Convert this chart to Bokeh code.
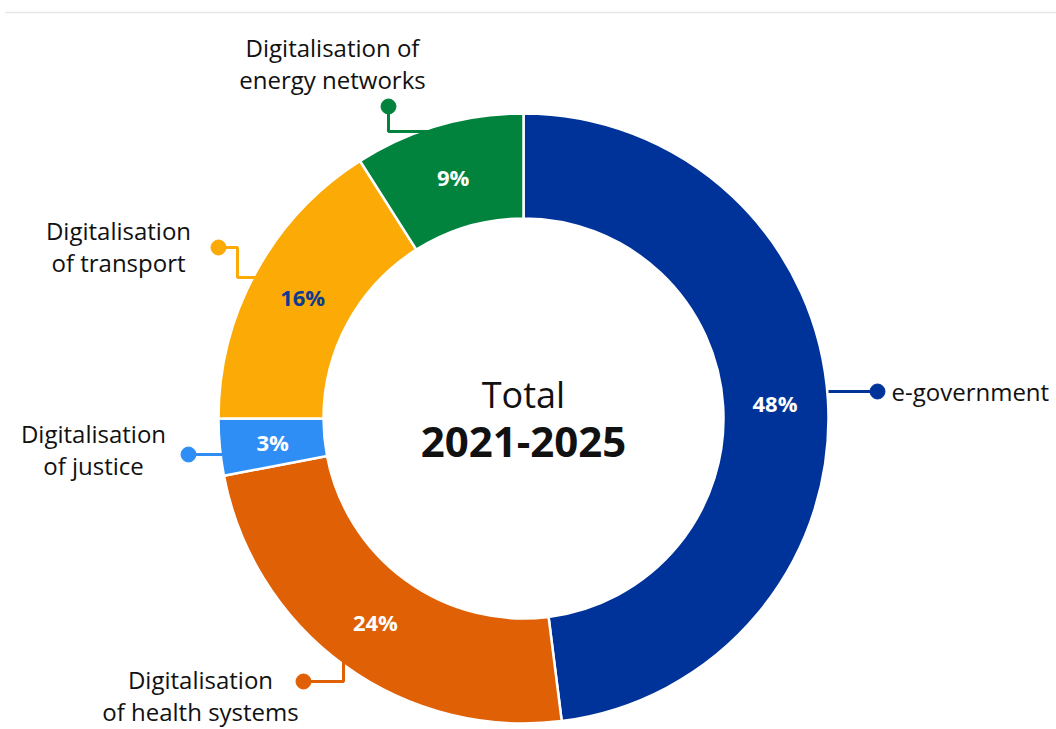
import numpy as np
from bokeh.plotting import figure
from bokeh.models import Range1d, ColumnDataSource
from bokeh.core.properties import value
from bokeh.embed import file_html
from bokeh.resources import INLINE

# ---- data ----
categories = ["e-government", "Digitalisation of health systems", "Digitalisation of justice",
              "Digitalisation of transport", "Digitalisation of energy networks"]
shares = [48, 24, 3, 16, 9]
colors = ["#003399", "#E06005", "#2E8EF6", "#FBAA06", "#01833E"]
pct_colors = ["white", "white", "white", "#0E3A90", "white"]
center_title = "Total"
center_period = "2021-2025"

FONT = "Open Sans"
W, H = 1056, 727

def Y(py):  # page pixel y -> data y
    return H - py

p = figure(width=W, height=H, output_backend="svg", toolbar_location=None,
           x_range=Range1d(0, W), y_range=Range1d(0, H), min_border=0)
p.axis.visible = False
p.grid.visible = False
p.outline_line_color = None
p.background_fill_color = "white"

# top border line
p.segment(x0=[5], y0=[Y(12)], x1=[W], y1=[Y(12)], line_color="#E6E6E6", line_width=1.5)

cx, cy = 523, Y(418)
r_in, r_out = 200, 305

vals = np.array(shares, dtype=float)
frac = vals / vals.sum()
ends_cum = np.cumsum(frac)
starts_cum = ends_cum - frac
start_ang = np.pi / 2 - starts_cum * 2 * np.pi
end_ang = np.pi / 2 - ends_cum * 2 * np.pi
mid_ang = (start_ang + end_ang) / 2

src = ColumnDataSource(dict(start=start_ang, end=end_ang, color=colors))
p.annular_wedge(x=cx, y=cy, inner_radius=r_in, outer_radius=r_out,
                start_angle="start", end_angle="end", direction="clock",
                fill_color="color", line_color="white", line_width=2.5, source=src)

r_lab = 252
lab_src = ColumnDataSource(dict(
    x=cx + r_lab * np.cos(mid_ang), y=cy + r_lab * np.sin(mid_ang),
    t=[f"{int(v)}%" for v in shares], c=pct_colors))
p.text(x="x", y="y", text="t", text_color="c", source=lab_src,
       text_font=value(FONT), text_font_size="22px", text_font_style="bold",
       text_align="center", text_baseline="middle")

# center text
p.text(x=[cx], y=[Y(394)], text=[center_title], text_font=value(FONT),
       text_font_size="36px", text_align="center", text_baseline="middle", text_color="#111111")
p.text(x=[cx], y=[Y(441)], text=[center_period], text_font=value(FONT),
       text_font_size="42px", text_font_style="bold", text_align="center",
       text_baseline="middle", text_color="#111111")

# leader lines (page pixel coords)
leaders = [
    [(828, 391), (877, 391)],                                  # e-government
    [(343, 660), (343, 681), (303, 681)],                      # health
    [(222, 454), (188, 454)],                                  # justice
    [(257, 277), (237, 277), (237, 247), (218, 247)],          # transport
    [(430, 131), (388, 131), (388, 106)],                      # energy
]
for pts, col in zip(leaders, colors):
    xs = [a for a, b in pts]
    ys = [Y(b) for a, b in pts]
    p.line(xs, ys, line_color=col, line_width=3)
    p.scatter([xs[-1]], [ys[-1]], size=15, fill_color=col, line_color=col)

# category labels
label_lines = [
    ["e-government"],
    ["Digitalisation", "of health systems"],
    ["Digitalisation", "of justice"],
    ["Digitalisation", "of transport"],
    ["Digitalisation of", "energy networks"],
]
label_pos = [(891, 391, "left"), (200, 679, "center"), (93, 433, "center"),
             (118, 230, "center"), (332, 47, "center")]
for lines, (lx, ly, al) in zip(label_lines, label_pos):
    for i, t in enumerate(lines):
        p.text(x=[lx], y=[Y(ly + 32 * i)], text=[t], text_font=value(FONT),
               text_font_size="24px", text_align=al, text_baseline="middle",
               text_color="#111111")

open("out.html", "w").write(file_html(p, INLINE))
